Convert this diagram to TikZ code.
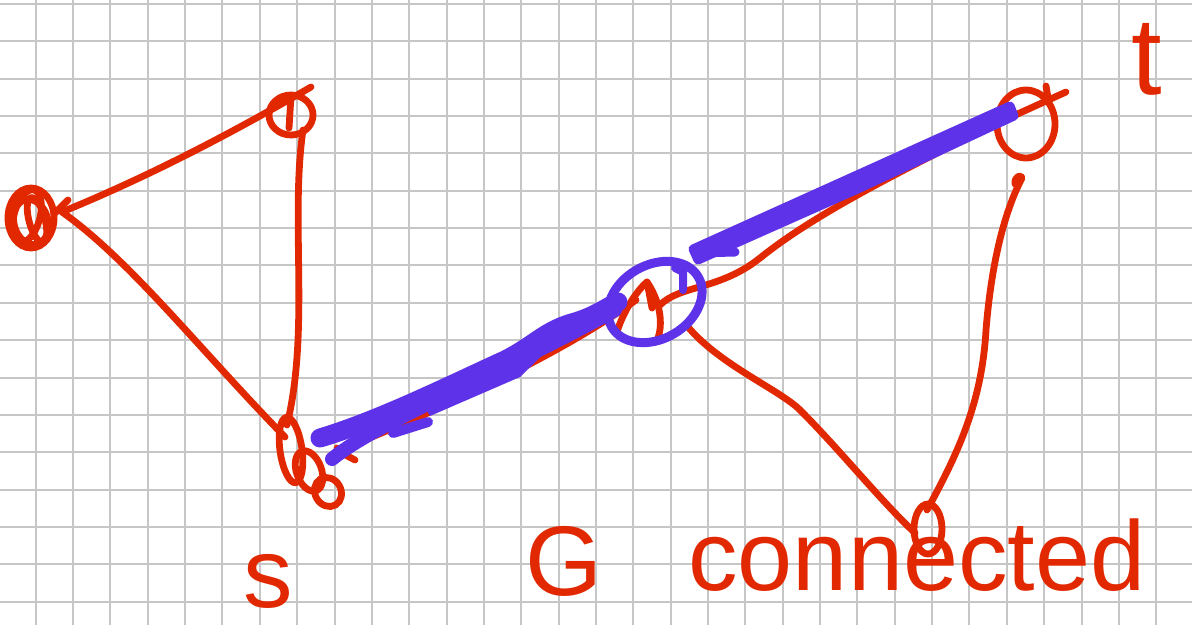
\documentclass[tikz,border=0pt]{standalone}
\usepackage{fontspec}
\setmainfont{Liberation Sans}
\usetikzlibrary{shapes.geometric}
\definecolor{ink}{RGB}{226,40,0}
\definecolor{hl}{RGB}{93,50,233}
\definecolor{gridc}{RGB}{198,198,198}
\begin{document}
\begin{tikzpicture}[x=0.5pt,y=-0.5pt,
 redline/.style={ink, line width=3.4pt, line cap=round, line join=round},
 blueline/.style={hl, line cap=round, line join=round},
 vtx/.style={ellipse, draw=ink, line width=3.4pt, inner sep=0pt},
 ghost/.style={ellipse, inner sep=0pt},
 lbl/.style={ink, inner sep=0pt, font=\fontsize{49.5}{50}\selectfont}]
\fill[white] (0,0) rectangle (1192,625);
\useasboundingbox (0,0) rectangle (1192,625);
% grid
\foreach \k in {0,...,30} \draw[gridc, line width=1pt] ({35.7+37.35*\k},0) -- ({35.7+37.35*\k},625);
\foreach \k in {0,...,16} \draw[gridc, line width=1pt] (0,{4+37.35*\k}) -- (1192,{4+37.35*\k});
% vertices
\node[vtx, minimum width=23pt, minimum height=30pt] (L) at (31,218) {};
\node[vtx, minimum width=22pt, minimum height=20pt] (T) at (291,115) {};
\node[ghost, minimum width=30pt, minimum height=45pt] (S) at (308,462) {};
\node[ghost, minimum width=22pt, minimum height=28pt] (C) at (640,310) {};
\node[vtx, minimum width=29pt, minimum height=34pt] (V) at (1026,124) {};
\node[vtx, minimum width=14pt, minimum height=25pt] (B) at (928,529) {};
% scribbles
\node[vtx, rotate=-15, minimum width=13pt, minimum height=27pt] (L1) at (27,216) {};
\node[vtx, rotate=15, minimum width=8pt, minimum height=23pt] (L2) at (37,220) {};
\node[vtx, rotate=15, minimum width=17pt, minimum height=23pt] (L3) at (31,222) {};
\node[vtx, rotate=8, minimum width=11pt, minimum height=33pt] (s1) at (291,450) {};
\node[vtx, rotate=20, minimum width=12.5pt, minimum height=21pt] (s2) at (309,471) {};
\node[vtx, rotate=30, minimum width=13pt, minimum height=15pt] (s3) at (328,492) {};
\draw[redline] ([shift={(29,-14)}]S.center) .. controls +(8,8) and +(-5,-3) .. ([shift={(47,-2)}]S.center);
\draw[redline] ([shift={(-23,22)}]C.center) .. controls ([shift={(-18,5)}]C.center) and ([shift={(-5,-18)}]C.center) .. ([shift={(7,-28)}]C.center) .. controls ([shift={(18,-12)}]C.center) and ([shift={(24,10)}]C.center) .. ([shift={(18,28)}]C.center);
\draw[redline] ([shift={(7,-28)}]C.center) -- ([shift={(12,-2)}]C.center);
\draw[redline] ([shift={(-2,13)}]T.center) -- ([shift={(0,-19)}]T.center);
\draw[redline] ([shift={(20,-38)}]V.center) -- ([shift={(22,-26)}]V.center);
% red edges
\draw[redline] ([shift={(31,-6)}]L.center) .. controls (140,180) and (220,140) .. ([shift={(20,-28)}]T.center);
\draw[redline] ([shift={(24,-5)}]L.center) -- ([shift={(37,-18)}]L.center);
\draw[redline] ([shift={(31,-6)}]L.center) .. controls (130,260) and (200,350) .. ([shift={(-23,-25)}]S.center);
\draw[redline] ([shift={(12,15)}]T.center) .. controls (290,220) and (310,330) .. ([shift={(-21,-37)}]S.center);
\draw[redline] ([shift={(32,-12)}]S.center) .. controls (440,410) and (560,355) .. ([shift={(-4,-10)}]C.center);
\draw[redline] ([shift={(20,-5)}]C.center) .. controls (680,285) and (720,290) .. (760,258) .. controls (800,226) and (860,190) .. (1000,122) -- ([shift={(40,-32)}]V.center);
\draw[redline] ([shift={(48,17)}]C.center) .. controls (720,365) and (780,390) .. (800,410) .. controls (840,450) and (880,500) .. ([shift={(-13,4)}]B.center);
\draw[redline] ([shift={(-11,60)}]V.center) .. controls ([shift={(-12,52)}]V.center) and ([shift={(-4,50)}]V.center) .. ([shift={(-4,54)}]V.center) .. controls (1000,220) and (990,280) .. (986,330) .. controls (982,400) and (960,450) .. ([shift={(-1,-19)}]B.center);
% blue highlight
\node[draw=hl, line width=4.5pt, ellipse, rotate=30, minimum width=50pt, minimum height=37pt, inner sep=0pt] (ring) at (655,302) {};
\draw[blueline, line width=4pt] ([shift={(28,-12)}]ring.center) -- ([shift={(28,-30)}]ring.center) -- ([shift={(20,-34)}]ring.center);
\draw[blueline, line width=9.5pt] ([shift={(12,-24)}]S.center) .. controls (380,420) and (450,385) .. (505,360) .. controls (535,345) and (545,330) .. (575,322) .. controls (595,316) and (605,308) .. ([shift={(-37,0)}]ring.center);
\draw[blueline, line width=7pt] ([shift={(24,-3)}]S.center) .. controls (380,420) and (500,374) .. ([shift={(-40,8)}]ring.center);
\fill[hl] (420,400) -- (505,360) -- (560,338) -- (520,377) -- (430,416) -- cycle;
\draw[blueline, line width=5pt] ([shift={(85,-29)}]S.center) -- ([shift={(120,-40)}]S.center);
\filldraw[hl, line width=4.5pt, line join=round] ([shift={(38,-53)}]ring.center) -- ([shift={(-16,-18)}]V.center) -- ([shift={(-12,-8)}]V.center) -- (860,188) -- ([shift={(43,-42)}]ring.center) -- cycle;
\draw[blueline, line width=4.5pt] ([shift={(40,-49)}]ring.center) -- ([shift={(80,-50)}]ring.center);
% labels
\node[lbl, anchor=base west] (ls) at (243,607) {s};
\node[lbl, anchor=base west] (lG) at (525,595) {G};
\node[lbl, anchor=base west] (lconn) at (688,590) {connected};
\node[lbl, anchor=base, font=\fontsize{55}{56}\selectfont] (lt) at (1147,95) {t};
\end{tikzpicture}
\end{document}
